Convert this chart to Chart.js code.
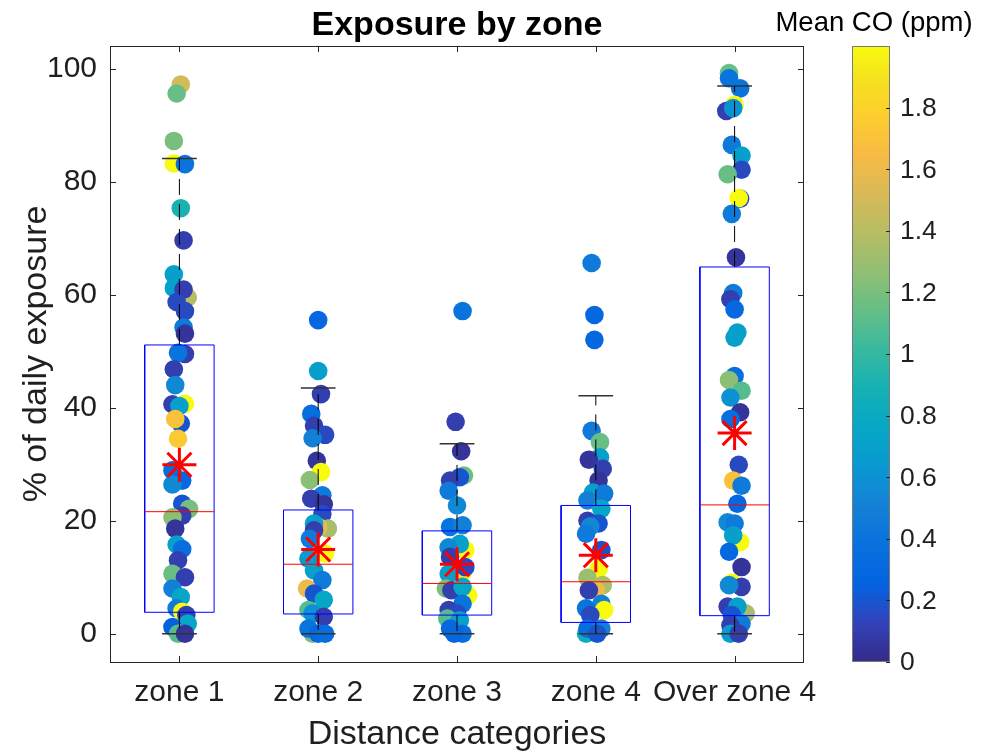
<!DOCTYPE html>
<html>
<head>
<meta charset="utf-8">
<script src="https://cdn.jsdelivr.net/npm/chart.js@4.4.1/dist/chart.umd.min.js"></script>
<style>
  html, body { margin: 0; padding: 0; background: #fff; overflow: hidden; }
</style>
</head>
<body>
<canvas id="chart" width="984" height="753"></canvas>
<script>
// categories and axis ticks
const categories = ['zone 1', 'zone 2', 'zone 3', 'zone 4', 'Over zone 4'];
const yTicks = [0, 20, 40, 60, 80, 100];
const coTicks = [0, 0.2, 0.4, 0.6, 0.8, 1, 1.2, 1.4, 1.6, 1.8];
const coTickLabels = ['0', '0.2', '0.4', '0.6', '0.8', '1', '1.2', '1.4', '1.6', '1.8'];

// box statistics per zone
const q1 = [3.8, 3.5, 3.3, 2.0, 3.2];
const medians = [21.6, 12.3, 8.9, 9.2, 22.8];
const q3 = [51.1, 21.9, 18.2, 22.7, 64.9];
const whiskerLow = [0, 0, 0, 0, 0];
const whiskerHigh = [84.1, 43.5, 33.6, 42.1, 96.9];
const means = [29.9, 14.9, 12.3, 13.9, 35.5];

// individual points: [x jitter, % of daily exposure, mean CO ppm]
const zone1 = [
  [0.01, 97.2, 1.5], [-0.02, 95.6, 1.15], [-0.04, 87.2, 1.2], [-0.04, 83.2, 2.0], [0.04, 83.1, 0.4],
  [0.01, 75.3, 0.9], [0.03, 69.6, 0.1], [-0.04, 63.6, 0.7], [-0.04, 61.2, 0.7], [0.06, 59.5, 1.4],
  [0.03, 60.9, 0.1], [-0.02, 58.7, 0.15], [0.04, 57.1, 0.15], [0.03, 54.2, 0.45], [0.04, 53.1, 0.05],
  [0.04, 49.5, 0.1], [-0.01, 49.7, 0.4], [-0.04, 46.8, 0.1], [-0.03, 44.0, 0.55], [-0.05, 40.6, 0.1],
  [0.04, 40.7, 2.0], [0.0, 40.3, 0.7], [0.01, 37.2, 0.2], [-0.03, 38.0, 1.7], [-0.01, 34.5, 1.75],
  [-0.05, 28.9, 0.35], [0.02, 27.1, 0.3], [-0.05, 26.4, 0.55], [0.02, 23.0, 0.2], [0.07, 22.1, 1.2],
  [0.02, 20.9, 0.1], [-0.05, 20.6, 1.25], [-0.03, 18.6, 0.05], [-0.02, 15.8, 0.7], [0.02, 15.0, 0.35],
  [-0.01, 13.0, 0.1], [-0.05, 10.6, 1.15], [0.04, 10.0, 0.1], [-0.05, 8.0, 0.5], [0.01, 6.5, 0.75],
  [-0.02, 4.5, 0.45], [0.02, 3.9, 2.0], [0.05, 3.3, 0.1], [0.06, 1.8, 0.75], [-0.05, 1.2, 0.25],
  [0.0, 0.0, 2.0], [-0.01, 0.0, 1.1], [0.04, 0.0, 0.05]
];
const zone2 = [
  [0.0, 55.5, 0.3], [0.0, 46.5, 0.7], [0.02, 42.4, 0.1], [-0.05, 38.9, 0.35], [-0.03, 36.8, 0.1],
  [0.05, 35.2, 0.15], [-0.04, 34.6, 0.5], [-0.01, 30.6, 0.05], [0.02, 28.6, 2.0], [-0.06, 27.2, 1.25],
  [0.03, 24.5, 0.45], [-0.05, 23.9, 0.1], [0.04, 22.9, 0.05], [0.03, 21.2, 0.15], [0.07, 18.6, 1.35],
  [0.0, 18.9, 1.6], [-0.03, 19.5, 0.7], [-0.03, 18.3, 0.1], [-0.06, 16.8, 0.45], [0.05, 14.2, 2.0],
  [-0.07, 13.3, 0.65], [-0.03, 11.2, 0.7], [0.03, 9.5, 0.45], [-0.08, 8.0, 1.6], [-0.03, 7.1, 0.2],
  [0.04, 6.0, 0.75], [-0.07, 4.2, 1.1], [-0.04, 3.6, 0.6], [0.04, 3.0, 0.1], [-0.04, 0.0, 1.2],
  [-0.07, 0.9, 0.4], [0.0, 0.0, 0.3], [0.05, 0.0, 0.35]
];
const zone3 = [
  [0.04, 57.1, 0.4], [-0.01, 37.5, 0.1], [0.03, 32.3, 0.05], [0.05, 28.0, 1.15], [0.02, 27.7, 0.2],
  [-0.05, 27.1, 0.1], [-0.06, 25.3, 0.45], [0.0, 22.7, 0.55], [-0.05, 18.9, 0.4], [0.04, 19.2, 0.5],
  [0.06, 14.8, 2.0], [0.02, 15.9, 0.7], [-0.06, 15.3, 0.55], [-0.05, 13.6, 0.1], [0.04, 10.9, 1.9],
  [0.06, 11.8, 0.15], [-0.06, 10.6, 0.7], [-0.08, 8.0, 1.2], [0.08, 6.8, 2.0], [-0.04, 7.7, 0.1],
  [0.04, 8.3, 0.75], [0.04, 5.3, 0.4], [-0.06, 4.2, 0.1], [0.0, 3.6, 0.15], [-0.07, 2.7, 1.1],
  [0.02, 2.4, 0.7], [-0.05, 0.9, 0.3], [0.04, 0.0, 0.35], [-0.02, 0.0, 0.3]
];
const zone4 = [
  [-0.03, 65.6, 0.45], [-0.01, 56.4, 0.3], [-0.01, 52.0, 0.3], [-0.03, 35.9, 0.45], [0.03, 33.9, 1.15],
  [0.03, 31.2, 0.7], [-0.05, 30.8, 0.05], [0.05, 29.2, 0.1], [0.02, 27.1, 0.05], [-0.02, 25.0, 0.7],
  [0.06, 24.8, 0.45], [-0.06, 23.6, 0.5], [0.04, 22.1, 0.75], [-0.06, 20.0, 0.1], [0.02, 19.5, 0.2],
  [-0.04, 19.0, 0.55], [-0.07, 17.7, 0.45], [0.04, 14.8, 0.2], [0.02, 11.5, 2.0], [-0.06, 9.9, 1.3],
  [0.05, 8.6, 1.35], [0.0, 7.7, 1.6], [-0.05, 7.7, 0.1], [0.04, 5.3, 0.5], [-0.07, 4.5, 0.4],
  [0.06, 4.2, 2.0], [-0.04, 3.3, 0.15], [-0.07, 0.0, 0.85], [-0.06, 0.9, 0.35], [0.04, 0.9, 0.5],
  [0.01, 0.0, 0.2]
];
const zone5 = [
  [-0.04, 99.2, 1.15], [-0.04, 98.3, 0.4], [0.04, 96.5, 0.4], [0.0, 93.6, 2.0], [-0.06, 92.5, 0.1],
  [-0.01, 93.0, 0.6], [-0.02, 86.5, 0.45], [0.05, 84.6, 0.7], [0.05, 82.1, 0.15], [-0.05, 81.3, 1.15],
  [0.04, 77.0, 0.15], [0.03, 77.1, 2.0], [-0.02, 74.3, 0.45], [0.01, 66.6, 0.05], [-0.01, 60.3, 0.45],
  [-0.03, 59.2, 0.1], [0.0, 57.4, 0.3], [0.02, 53.3, 0.7], [0.0, 52.4, 0.7], [0.0, 45.6, 0.35],
  [-0.04, 44.9, 1.25], [0.05, 43.0, 1.1], [-0.03, 41.8, 0.6], [0.04, 39.2, 0.05], [-0.03, 38.0, 0.35],
  [0.03, 29.9, 0.15], [-0.01, 27.1, 1.7], [0.05, 26.2, 0.45], [0.02, 23.0, 0.3], [-0.05, 19.7, 0.55],
  [0.0, 19.5, 0.45], [0.04, 16.2, 2.0], [-0.01, 17.4, 0.7], [-0.04, 14.5, 0.3], [0.05, 11.8, 0.05],
  [-0.02, 9.0, 2.0], [0.05, 8.3, 0.1], [-0.04, 8.6, 0.55], [0.08, 3.6, 1.35], [-0.05, 4.8, 0.1],
  [0.02, 4.8, 0.7], [-0.02, 3.3, 0.2], [0.05, 1.8, 0.45], [-0.03, 1.5, 0.1], [-0.03, 0.0, 0.65],
  [0.03, 0.0, 0.1]
];
const zones = [zone1, zone2, zone3, zone4, zone5];
const coMax = 2;

const FONT = "'Liberation Sans', Arial, Helvetica, sans-serif";
const INK = '#1f1f1f';

// parula colormap (sampled)
const parulaStops = [
  [0, 53, 42, 135], [0.0635, 50, 67, 186], [0.127, 3, 99, 225], [0.19, 8, 113, 222],
  [0.254, 20, 129, 214], [0.317, 9, 152, 209], [0.381, 6, 167, 198], [0.444, 21, 177, 180],
  [0.508, 56, 185, 158], [0.571, 101, 190, 134], [0.635, 146, 191, 115], [0.698, 183, 189, 100],
  [0.762, 217, 186, 86], [0.825, 248, 187, 68], [0.889, 252, 206, 46], [0.952, 245, 228, 29],
  [1, 249, 251, 14]
];
function parula(t) {
  t = Math.max(0, Math.min(1, t));
  for (let i = 1; i < parulaStops.length; i++) {
    const a = parulaStops[i - 1], b = parulaStops[i];
    if (t <= b[0]) {
      const f = (t - a[0]) / (b[0] - a[0]);
      const c = [1, 2, 3].map(k => Math.round(a[k] + (b[k] - a[k]) * f));
      return `rgb(${c[0]},${c[1]},${c[2]})`;
    }
  }
  return 'rgb(249,251,14)';
}

// build datasets
const pointData = [];
const pointColors = [];
zones.forEach((pts, i) => {
  pts.forEach(([jit, y, co]) => {
    pointData.push({ x: i + 1 + jit, y: y });
    pointColors.push(parula(co / coMax));
  });
});

const boxLines = [], medianLines = [], whiskerLines = [], capLines = [];
const gap = i => ({ x: i + 1, y: null });
categories.forEach((c, i) => {
  const x = i + 1;
  boxLines.push({ x: x - 0.25, y: q1[i] }, { x: x + 0.25, y: q1[i] }, { x: x + 0.25, y: q3[i] },
    { x: x - 0.25, y: q3[i] }, { x: x - 0.25, y: q1[i] }, gap(i));
  medianLines.push({ x: x - 0.25, y: medians[i] }, { x: x + 0.25, y: medians[i] }, gap(i));
  whiskerLines.push({ x: x, y: q3[i] }, { x: x, y: whiskerHigh[i] }, gap(i),
    { x: x, y: q1[i] }, { x: x, y: whiskerLow[i] }, gap(i));
  capLines.push({ x: x - 0.125, y: whiskerHigh[i] }, { x: x + 0.125, y: whiskerHigh[i] }, gap(i),
    { x: x - 0.125, y: whiskerLow[i] }, { x: x + 0.125, y: whiskerLow[i] }, gap(i));
});
const meanData = means.map((m, i) => ({ x: i + 1, y: m }));

const lineSet = (data, color, extra) => Object.assign({
  data, showLine: true, borderColor: color, borderWidth: 1, pointRadius: 0,
  pointHoverRadius: 0, spanGaps: false, fill: false, order: 2
}, extra || {});

// axes frame with inward ticks, MATLAB style
const framePlugin = {
  id: 'frame',
  afterDatasetsDraw(chart) {
    const { ctx, chartArea: a, scales } = chart;
    ctx.save();
    ctx.strokeStyle = '#262626';
    ctx.lineWidth = 1;
    ctx.strokeRect(a.left + 0.5, a.top + 0.5, a.right - a.left - 1, a.bottom - a.top);
    ctx.beginPath();
    scales.y.ticks.forEach(t => {
      const py = Math.round(scales.y.getPixelForValue(t.value)) + 0.5;
      ctx.moveTo(a.left, py); ctx.lineTo(a.left + 6, py);
      ctx.moveTo(a.right, py); ctx.lineTo(a.right - 6, py);
    });
    scales.x.ticks.forEach(t => {
      const px = Math.round(scales.x.getPixelForValue(t.value)) + 0.5;
      ctx.moveTo(px, a.bottom); ctx.lineTo(px, a.bottom - 6);
      ctx.moveTo(px, a.top); ctx.lineTo(px, a.top + 6);
    });
    ctx.stroke();
    ctx.restore();
  },
  afterDraw(chart) {
    const { ctx, chartArea: a, scales } = chart;
    ctx.save();
    // title
    ctx.fillStyle = '#000';
    ctx.font = `bold 34px ${FONT}`;
    ctx.textAlign = 'center';
    ctx.textBaseline = 'alphabetic';
    ctx.fillText('Exposure by zone', (a.left + a.right) / 2, 35);

    // colorbar
    const co = scales.co;
    const x0 = 852, x1 = 890;
    const yTop = co.getPixelForValue(coMax), yBot = co.getPixelForValue(0);
    const grad = ctx.createLinearGradient(0, yBot, 0, yTop);
    parulaStops.forEach(s => grad.addColorStop(s[0], `rgb(${s[1]},${s[2]},${s[3]})`));
    ctx.fillStyle = grad;
    ctx.fillRect(x0, yTop, x1 - x0, yBot - yTop);
    ctx.strokeStyle = '#7a7a7a';
    ctx.lineWidth = 1;
    ctx.strokeRect(x0 + 0.5, yTop + 0.5, x1 - x0 - 1, yBot - yTop - 1);
    ctx.strokeStyle = '#262626';
    ctx.beginPath();
    coTicks.forEach(v => {
      const py = Math.round(co.getPixelForValue(v)) + 0.5;
      ctx.moveTo(x1, py); ctx.lineTo(x1 - 4, py);
    });
    ctx.stroke();
    ctx.fillStyle = INK;
    ctx.font = `26.5px ${FONT}`;
    ctx.textAlign = 'left';
    ctx.textBaseline = 'middle';
    coTicks.forEach((v, i) => ctx.fillText(coTickLabels[i], 900, co.getPixelForValue(v) + 1));
    ctx.fillStyle = '#000';
    ctx.font = `27.5px ${FONT}`;
    ctx.textAlign = 'center';
    ctx.textBaseline = 'alphabetic';
    ctx.fillText('Mean CO (ppm)', (x0 + x1) / 2 + 3, 31);
    ctx.restore();
  }
};

new Chart(document.getElementById('chart'), {
  type: 'scatter',
  data: {
    datasets: [
      {
        data: meanData, pointStyle: 'star', pointRadius: 17, pointHoverRadius: 17,
        borderColor: '#ff0000', backgroundColor: '#ff0000', pointBorderWidth: 3, borderWidth: 3, order: 0
      },
      lineSet(whiskerLines, '#000000', { borderDash: [16, 9], order: 1 }),
      lineSet(capLines, '#333333', { borderWidth: 1.5, order: 1 }),
      lineSet(medianLines, '#ff0000', { order: 1 }),
      lineSet(boxLines, '#0000ff', { order: 1 }),
      {
        data: pointData, backgroundColor: pointColors, borderWidth: 0, pointBorderWidth: 0,
        pointRadius: 9.3, pointHoverRadius: 9.3, order: 5
      }
    ]
  },
  options: {
    responsive: false,
    animation: false,
    devicePixelRatio: 1,
    layout: { padding: { top: 46, right: 180, bottom: 0, left: 0 } },
    plugins: { legend: { display: false }, tooltip: { enabled: false }, title: { display: false } },
    scales: {
      x: {
        type: 'linear', position: 'bottom', min: 0.5, max: 5.5,
        afterBuildTicks: s => { s.ticks = categories.map((c, i) => ({ value: i + 1 })); },
        afterFit: s => { s.height = 91; },
        grid: { display: false, drawTicks: false },
        border: { display: false },
        ticks: {
          callback: v => categories[Math.round(v) - 1], color: INK, padding: 13,
          font: { family: FONT, size: 30 }, maxRotation: 0, autoSkip: false
        },
        title: {
          display: true, text: 'Distance categories', color: INK,
          font: { family: FONT, size: 34, lineHeight: 1 }, padding: { top: 0, bottom: 1 }
        }
      },
      y: {
        type: 'linear', position: 'left', min: -5, max: 104,
        afterBuildTicks: s => { s.ticks = yTicks.map(v => ({ value: v })); },
        afterFit: s => { s.width = 110; },
        grid: { display: false, drawTicks: false },
        border: { display: false },
        ticks: { color: INK, padding: 13, font: { family: FONT, size: 30 } },
        title: {
          display: true, text: '% of daily exposure', color: INK,
          font: { family: FONT, size: 34, lineHeight: 1 }, padding: { top: 20, bottom: 0 }
        }
      },
      co: { type: 'linear', position: 'right', display: false, min: 0, max: coMax }
    }
  },
  plugins: [framePlugin]
});
</script>
</body>
</html>
